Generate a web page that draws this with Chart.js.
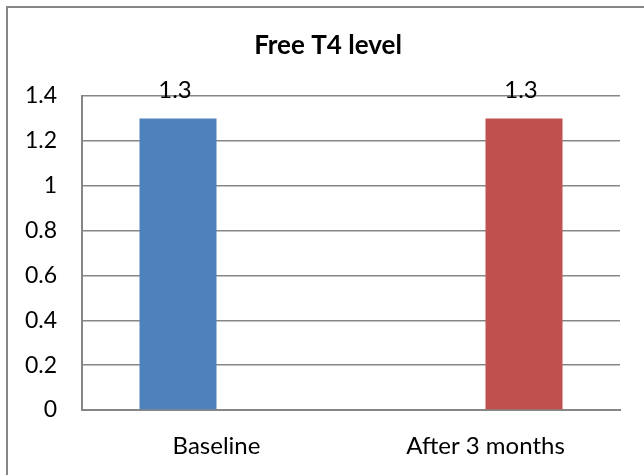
<!DOCTYPE html>
<html>
<head>
<meta charset="utf-8">
<script src="https://cdn.jsdelivr.net/npm/chart.js@4/dist/chart.umd.min.js"></script>
<style>
html,body{margin:0;padding:0;background:#fff;}
#wrap{position:absolute;left:0;top:0;width:644px;height:475px;}
</style>
</head>
<body>
<div id="wrap"><canvas id="c" width="644" height="475"></canvas></div>
<script>
const chartTitle = 'Free T4 level';
const categories = ['Baseline', 'After 3 months'];
const baselineValues = [1.3, null];
const afterValues = [null, 1.3];
const yTicks = [0, 0.2, 0.4, 0.6, 0.8, 1, 1.2, 1.4];

const FONT = 'Lato, "Open Sans", sans-serif';
const GRID = '#868686';

const frame = {
  id: 'frame',
  beforeDraw(chart) {
    const ctx = chart.ctx;
    ctx.save();
    ctx.fillStyle = '#fff';
    ctx.fillRect(0, 0, chart.width, chart.height);
    ctx.fillStyle = '#868686';
    ctx.fillRect(6, 6, 2, chart.height - 6);
    ctx.fillRect(6, 6, chart.width - 6, 2);
    ctx.restore();
  },
  afterDraw(chart) {
    const ctx = chart.ctx;
    ctx.save();
    ctx.font = 'bold 26px ' + FONT;
    ctx.fillStyle = '#000';
    ctx.textAlign = 'center';
    ctx.textBaseline = 'middle';
    ctx.fillText(chartTitle, 328, 46);
    ctx.restore();
  }
};

const valueLabels = {
  id: 'valueLabels',
  afterDatasetsDraw(chart) {
    const ctx = chart.ctx;
    ctx.save();
    ctx.font = '24px ' + FONT;
    ctx.fillStyle = '#000';
    ctx.textAlign = 'center';
    ctx.textBaseline = 'alphabetic';
    chart.data.datasets.forEach((ds, di) => {
      const meta = chart.getDatasetMeta(di);
      meta.data.forEach((el, i) => {
        const v = ds.data[i];
        if (v === null || v === undefined) return;
        ctx.fillText(String(v), el.x - 3, el.y - 20);
      });
    });
    ctx.restore();
  }
};

new Chart(document.getElementById('c'), {
  type: 'bar',
  data: {
    labels: categories,
    datasets: [
      { label: 'Baseline', data: baselineValues, backgroundColor: '#4F81BD', borderWidth: 0,
        categoryPercentage: 0.5725, barPercentage: 1 },
      { label: 'After 3 months', data: afterValues, backgroundColor: '#C0504D', borderWidth: 0,
        categoryPercentage: 0.5725, barPercentage: 1 }
    ]
  },
  options: {
    responsive: false,
    animation: false,
    layout: { padding: { left: 0, right: 24, top: 96, bottom: 0 } },
    plugins: {
      legend: { display: false },
      tooltip: { enabled: false },
      title: { display: false }
    },
    scales: {
      x: {
        grid: { display: false, drawTicks: false },
        border: { display: true, color: GRID, width: 2 },
        ticks: { color: '#000', font: { family: FONT, size: 24 }, padding: 22, maxRotation: 0 },
        afterFit(s) { s.height = 65; }
      },
      y: {
        min: 0, max: 1.4,
        afterBuildTicks(s) { s.ticks = yTicks.map(v => ({ value: v })); },
        grid: { color: GRID, lineWidth: 1.5, drawTicks: false },
        border: { display: true, color: GRID, width: 2 },
        ticks: { color: '#000', font: { family: FONT, size: 23 }, padding: 25,
          callback: (v) => String(v) },
        afterFit(s) { s.width = 82; }
      }
    }
  },
  plugins: [frame, valueLabels]
});
</script>
</body>
</html>
